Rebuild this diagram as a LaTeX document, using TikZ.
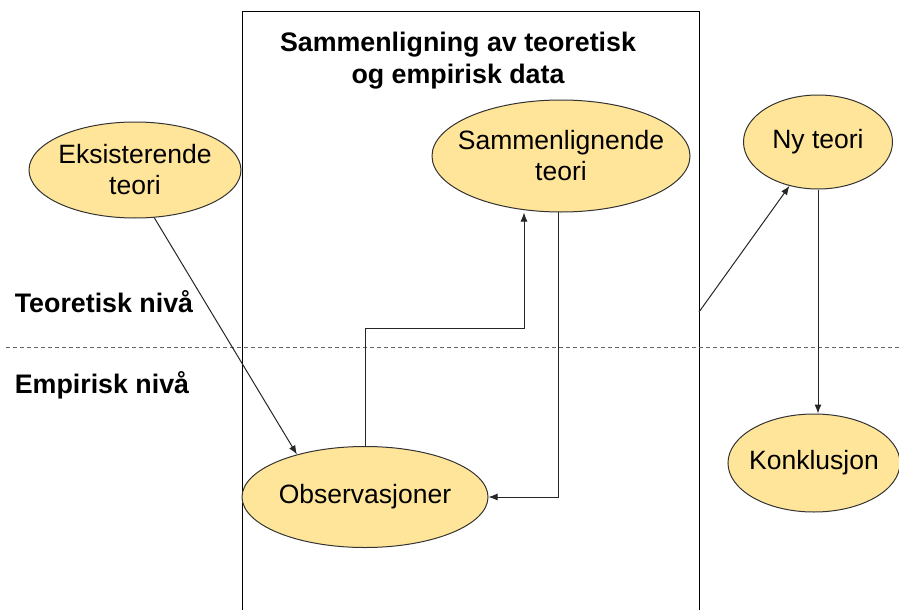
\documentclass[tikz,border=0pt]{standalone}
\usepackage{fontspec}
\setmainfont{Liberation Sans}
\usepackage{tikz}
\usetikzlibrary{arrows.meta,shapes.geometric}
\definecolor{ovalfill}{RGB}{255,229,153}

\begin{document}
\begin{tikzpicture}[x=1pt,y=-1pt,line width=1pt,
    ovalnode/.style={ellipse,draw=black!80,fill=ovalfill,inner sep=0pt,align=center,font=\fontsize{26.5}{31}\selectfont},
    boldtext/.style={font=\fontsize{26.8}{32}\selectfont\bfseries,align=center},
    pil/.style={-{Latex[length=9pt,width=7pt]},draw=black!85},]
    \useasboundingbox (0,0) rectangle (899,610);
    % boks for sammenligning
    \draw (242,615) -- (242,12) -- (699,12) -- (699,615);
    \draw[dashed,dash pattern=on 4pt off 3pt,gray!80!black] (6,347) -- (899,347);
    \node[boldtext] at (458,61) (overskrift) {Sammenligning av teoretisk\\og empirisk data};
    \node[boldtext,anchor=west] at (11,302) (teoretisk) {Teoretisk nivå};
    \node[boldtext,anchor=west] at (11,385) (empirisk) {Empirisk nivå};
    \node[ovalnode,inner xsep=-3pt,minimum width=212pt,minimum height=96pt] at (135,170) (eksisterende) {Eksisterende\\teori};
    \node[ovalnode,inner xsep=-14pt,minimum width=258pt,minimum height=112pt] at (561,156) (sammenlign) {Sammenlignende\\teori};
    \node[ovalnode,minimum width=149pt,minimum height=94pt] at (818,142) (nyteori) {Ny teori};
    \node[ovalnode,inner xsep=-4pt,minimum width=167pt,minimum height=98pt] at (814,463) (konklusjon) {Konklusjon};
    \node[ovalnode,minimum width=246pt,minimum height=101pt] at (365,497) (observasjoner) {Observasjoner};
    \coordinate (boksside) at (699,312);
    \coordinate (knekk) at (524,328);
    \draw[pil] (eksisterende.-68) -- (observasjoner.148);
    \draw[pil] (observasjoner.north) |- (knekk) -- (knekk |- sammenlign.south);
    \draw[pil] (sammenlign.-93) |- (observasjoner.east);
    \draw[pil] (boksside) -- (nyteori.237);
    \draw[pil] (nyteori.south) -- (nyteori.south |- konklusjon.north);
\end{tikzpicture}
\end{document}
